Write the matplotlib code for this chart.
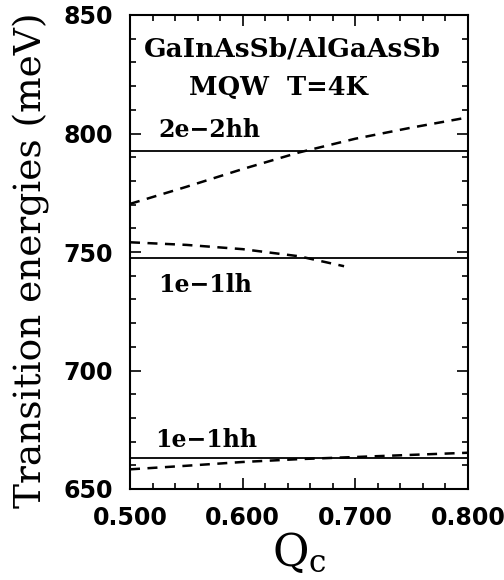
import matplotlib
matplotlib.use("Agg")
import matplotlib.pyplot as plt
from matplotlib.ticker import MultipleLocator, FormatStrFormatter

# Data
qc = [0.50, 0.55, 0.60, 0.65, 0.70, 0.75, 0.80]
e22_dashed = [770.3, 777.5, 785.0, 792.0, 797.8, 802.5, 806.8]
qc_lh = [0.50, 0.55, 0.60, 0.65, 0.69]
e11lh_dashed = [754.1, 753.0, 751.2, 748.2, 744.0]
e11hh_dashed = [658.3, 659.8, 661.4, 662.6, 663.5, 664.4, 665.3]
solid_levels = [792.7, 747.3, 662.9]
level_labels = ["2e\u22122hh", "1e\u22121lh", "1e\u22121hh"]
label_pos = [(0.525, 801.5), (0.525, 736.0), (0.522, 670.5)]

fig = plt.figure(figsize=(5.04, 5.80), dpi=100)
ax = fig.add_axes([130/504, 91/580, 338/504, 474/580])

for lvl in solid_levels:
    ax.axhline(lvl, color="black", lw=1.3)

ax.plot(qc, e22_dashed, color="black", lw=1.8, ls=(0, (4, 3)))
ax.plot(qc_lh, e11lh_dashed, color="black", lw=1.8, ls=(0, (4, 3)))
ax.plot(qc, e11hh_dashed, color="black", lw=1.8, ls=(0, (4, 3)))

serif = "DejaVu Serif"
for txt, (x, y) in zip(level_labels, label_pos):
    ax.text(x, y, txt, fontsize=17, family=serif, fontweight="bold",
            ha="left", va="center")

ax.text(0.6438, 835.5, "GaInAsSb/AlGaAsSb", fontsize=19, family=serif,
        fontweight="bold", ha="center", va="center")
ax.text(0.632, 819.5, "MQW  T=4K", fontsize=18.5, family=serif,
        fontweight="bold", ha="center", va="center")

ax.set_xlim(0.5, 0.8)
ax.set_ylim(650, 850)
ax.xaxis.set_major_locator(MultipleLocator(0.1))
ax.xaxis.set_minor_locator(MultipleLocator(0.02))
ax.yaxis.set_major_locator(MultipleLocator(50))
ax.yaxis.set_minor_locator(MultipleLocator(10))
ax.xaxis.set_major_formatter(FormatStrFormatter("%.3f"))
ax.tick_params(which="both", direction="in", top=True, right=True, width=1.2)
ax.tick_params(which="major", length=8)
ax.tick_params(which="minor", length=4)
for lab in ax.get_xticklabels() + ax.get_yticklabels():
    lab.set_fontweight("heavy")
    lab.set_fontsize(17)
ax.tick_params(axis="x", pad=12)
ax.tick_params(axis="y", pad=12)
for s in ax.spines.values():
    s.set_linewidth(1.5)

ax.set_ylabel("Transition energies (meV)", fontsize=27, family=serif)
ax.yaxis.set_label_coords(-0.237, 0.483)
ax.set_xlabel("$\\mathregular{Q_c}$", fontsize=32, family=serif, labelpad=1)

fig.savefig("out.png", dpi=100)
